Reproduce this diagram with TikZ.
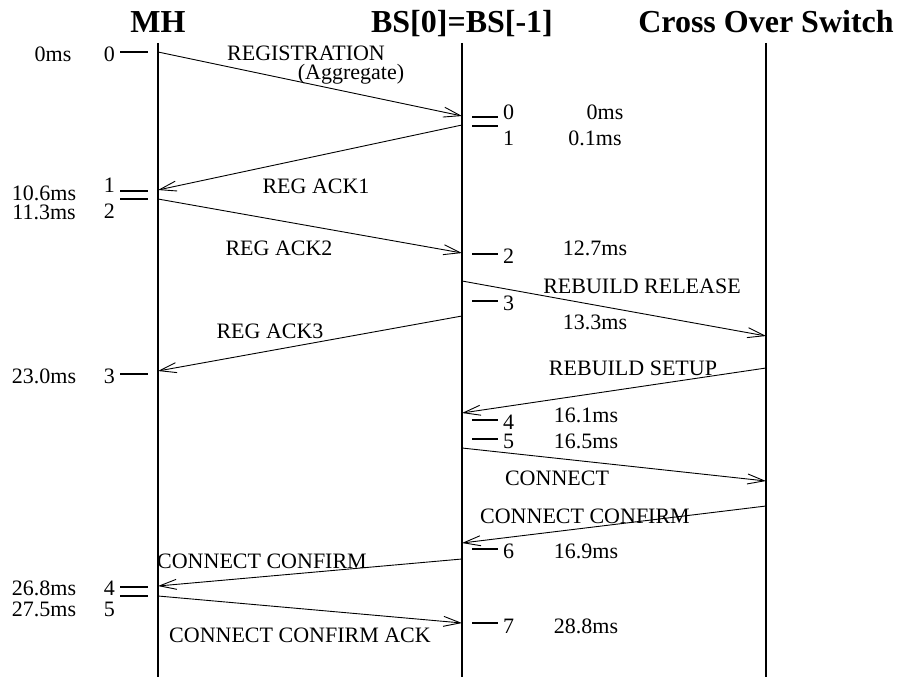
\documentclass[tikz,border=0pt]{standalone}
\usepackage{fontspec}
\setmainfont{Liberation Serif}
\usepackage{tikz}
\usetikzlibrary{arrows.meta, positioning, calc}
\tikzset{
  lifeline/.style={line width=2pt},
  tickmark/.style={line width=2.5pt},
  msg/.style={-{Straight Barb[length=17pt, width=10pt, line width=0.9pt]}, line width=0.9pt},
  lbl/.style={font=\fontsize{22}{24}\selectfont, inner sep=0pt, anchor=base},
  header/.style={font=\fontsize{32}{35}\selectfont\bfseries, inner sep=0pt, anchor=base},
}

\begin{document}
\begin{tikzpicture}[x=1pt, y=-1pt]
  \useasboundingbox (0,0) rectangle (905,677);
  % Lifeline positions
  \def\mhx{158}
  \def\bsx{462}
  \def\cosx{766}

  % Headers
  \node[header] (mh)  at (\mhx,33)  {MH};
  \node[header] (bs)  at (\bsx,33)  {BS[0]=BS[-1]};
  \node[header] (cos) at (\cosx,33) {Cross Over Switch};

  % Lifelines
  \foreach \x/\nm in {\mhx/mh, \bsx/bs, \cosx/cos} {
    \coordinate (\nm top) at (\x,43);
    \coordinate (\nm bot) at (\x,677);
    \draw[lifeline] (\nm top) -- (\nm bot);
  }

  % Event ticks
  \foreach \y in {52,191,199,374,587,596} {
    \draw[tickmark] (120,\y) -- (148,\y);
  }
  \foreach \y in {117,126,254,301,420,439,549,623} {
    \draw[tickmark] (472,\y) -- (498,\y);
  }

  % MH event numbers and times
  \foreach \n/\y/\t/\tx/\ty in {0/62/0ms/53/62, 1/192/10.6ms/44/200, 2/218/11.3ms/44/219,
                                3/383/23.0ms/44/383, 4/595/26.8ms/44/595, 5/616/27.5ms/44/616} {
    \node[lbl, anchor=base east] (mhn\n) at (115,\y) {\n};
    \node[lbl] (mht\n) at (\tx,\ty) {\t};
  }

  % BS event numbers and times
  \foreach \n/\y/\t/\tx/\ty in {0/119/0ms/605/119, 1/145/0.1ms/595/145, 2/263/12.7ms/595/255,
                                3/310/13.3ms/595/329, 4/429/16.1ms/586/422, 5/448/16.5ms/586/448,
                                6/558/16.9ms/586/558, 7/633/28.8ms/586/633} {
    \node[lbl, anchor=base west] (bsn\n) at (503,\y) {\n};
    \node[lbl] (bst\n) at (\tx,\ty) {\t};
  }

  % Messages
  \foreach \a/\b/\c/\d [count=\k] in {\mhx/52/\bsx/116, \bsx/125/\mhx/190, \mhx/199/\bsx/253,
                                      \bsx/281/\cosx/336, \bsx/316/\mhx/371, \cosx/368/\bsx/413,
                                      \bsx/448/\cosx/481, \cosx/506/\bsx/543, \bsx/559/\mhx/586,
                                      \mhx/596/\bsx/623} {
    \coordinate (m\k s) at (\a,\b);
    \coordinate (m\k e) at (\c,\d);
    \draw[msg] (m\k s) -- (m\k e);
  }

  % Message labels
  \node[lbl] (lreg)  at (306,61)  {REGISTRATION};
  \node[lbl] (lagg)  at (351,80)  {(Aggregate)};
  \node[lbl] (lack1) at (316,193) {REG ACK1};
  \node[lbl] (lack2) at (279,255) {REG ACK2};
  \node[lbl] (lrel)  at (642,293) {REBUILD RELEASE};
  \node[lbl] (lack3) at (270,338) {REG ACK3};
  \node[lbl] (lset)  at (633,375) {REBUILD SETUP};
  \node[lbl] (lcon)  at (557,485) {CONNECT};
  \node[lbl] (lcc1)  at (585,523) {CONNECT CONFIRM};
  \node[lbl] (lcc2)  at (262,568) {CONNECT CONFIRM};
  \node[lbl] (lcca)  at (300,642) {CONNECT CONFIRM ACK};
\end{tikzpicture}
\end{document}
